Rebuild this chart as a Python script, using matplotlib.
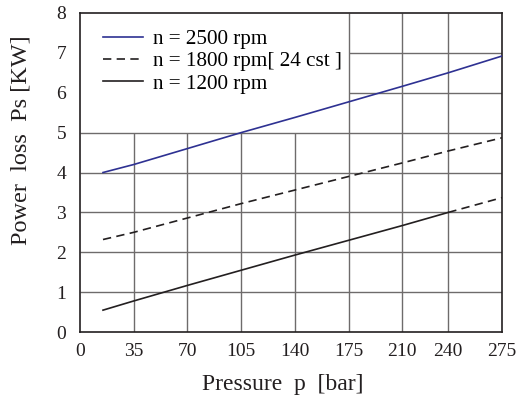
import numpy as np
import matplotlib.pyplot as plt

plt.rcParams['font.family'] = ['Liberation Serif', 'DejaVu Serif']

# pressure [bar]
p = [15, 35, 70, 105, 140, 175, 210, 240, 275]
# power loss [KW]
ps_2500 = [4.0, 4.2, 4.6, 5.0, 5.38, 5.77, 6.16, 6.5, 6.92]
ps_1800 = [2.32, 2.5, 2.86, 3.22, 3.56, 3.9, 4.24, 4.54, 4.87]
ps_1200 = [0.55, 0.78, 1.17, 1.55, 1.93, 2.3, 2.67, 3.0, 3.37]

xticks = [0, 35, 70, 105, 140, 175, 210, 240, 275]
yticks = [0, 1, 2, 3, 4, 5, 6, 7, 8]

grid_c = '#6e6b6b'
ink = '#231f20'

fig = plt.figure(figsize=(5.17, 4.04), dpi=100)
ax = fig.add_axes([0.1547, 0.178, 0.8163, 0.790])

# partial grid like the catalogue chart
ax.vlines([35, 70, 105, 140], 0, 5, color=grid_c, lw=1.0, zorder=1)
ax.vlines([175, 210, 240], 0, 8, color=grid_c, lw=1.0, zorder=1)
ax.hlines([1, 2, 3, 4, 5], 0, 275, color=grid_c, lw=1.0, zorder=1)
ax.hlines([6, 7], 175, 275, color=grid_c, lw=1.0, zorder=1)

ax.plot(p, ps_2500, color='#2e3192', lw=1.2, label='n = 2500 rpm', zorder=3)
ax.plot(p, ps_1800, color=ink, lw=1.2, ls=(0, (5, 3.2)),
        label='n = 1800 rpm[ 24 cst ]', zorder=3)
# 1200 rpm: solid up to 240 bar, dashed beyond
k = p.index(240)
ax.plot(p[:k + 1], ps_1200[:k + 1], color=ink, lw=1.2, label='n = 1200 rpm', zorder=3)
ax.plot(p[k:], ps_1200[k:], color=ink, lw=1.2, ls=(0, (5, 3.2)), zorder=3)

ax.set_xlim(0, 275)
ax.set_ylim(0, 8)
ax.set_xticks(xticks)
ax.set_yticks(yticks)
ax.tick_params(length=0, labelsize=14, colors=ink)
ax.tick_params(axis='x', pad=8)
ax.tick_params(axis='y', pad=10)
for s in ax.spines.values():
    s.set_color(ink)
    s.set_linewidth(1.2)

ax.set_xlabel('Pressure  p  [bar]', fontsize=17, color=ink)
ax.set_ylabel('Power  loss  Ps [KW]', fontsize=17.5, color=ink)
ax.xaxis.set_label_coords(0.481, -0.13)
ax.yaxis.set_label_coords(-0.115, 0.6)

ax.legend(loc='upper left', bbox_to_anchor=(0.035, 0.975), frameon=False,
          fontsize=15.2, handlelength=1.9, handletextpad=0.45, labelspacing=0.12,
          borderaxespad=0)

fig.savefig('out.png', dpi=100)
